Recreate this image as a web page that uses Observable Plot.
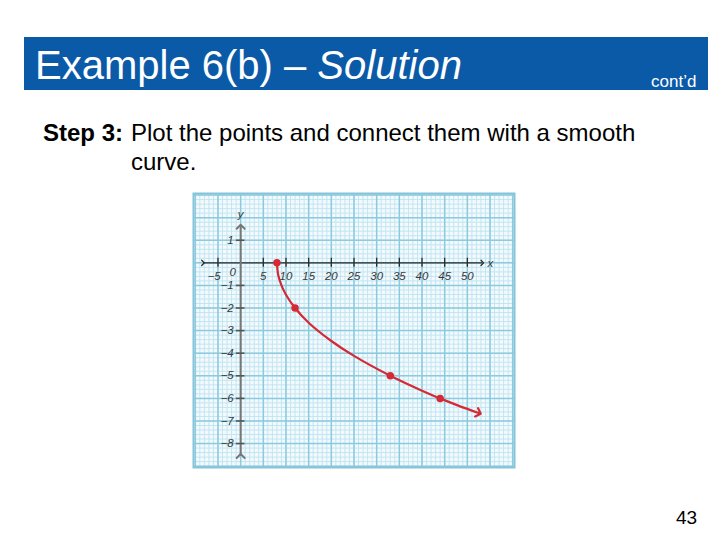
<!DOCTYPE html>
<html>
<head>
<meta charset="utf-8">
<script src="https://cdn.jsdelivr.net/npm/d3@7"></script>
<script src="https://cdn.jsdelivr.net/npm/@observablehq/plot@0.6"></script>
<style>
  html, body { margin: 0; padding: 0; background: #fff; }
  #page { position: relative; width: 720px; height: 540px; overflow: hidden; font-family: "Liberation Sans", Arial, sans-serif; }
  .bar { position: absolute; left: 24px; top: 37px; width: 684px; height: 53px; background: #0b5aa8; }
  .title { position: absolute; left: 35px; top: 45px; font-size: 40px; line-height: 40px; color: #fff; white-space: nowrap; }
  .contd { position: absolute; left: 651px; top: 73px; font-size: 17px; line-height: 17px; color: #fff; white-space: nowrap; }
  .step { position: absolute; left: 43px; top: 118px; font-size: 24px; line-height: 29px; color: #000; white-space: nowrap; }
  .step b { display: inline-block; width: 88px; }
  .step .indent { padding-left: 88px; }
  .pnum { position: absolute; left: 676px; top: 508px; font-size: 19px; line-height: 19px; color: #000; }
  #chart { position: absolute; left: 193px; top: 193px; }
</style>
</head>
<body>
<div id="page">
  <div class="bar"></div>
  <div class="title">Example 6(b) – <i>Solution</i></div>
  <div class="contd">cont’d</div>
  <div class="step"><b>Step 3:</b>Plot the points and connect them with a smooth<br><span class="indent">curve.</span></div>
  <div class="pnum">43</div>
  <div id="chart"></div>
</div>
<script>
// Plotted points
const pointX = [8, 12, 33, 44];
const pointY = [0, -2, -5, -6];
// Smooth curve
const curveX = [8, 8.3, 9, 10, 12, 15, 20, 25, 33, 40, 44, 48, 52.5];
const curveY = [0, -0.55, -1, -1.41, -2, -2.65, -3.46, -4.12, -5, -5.66, -6, -6.32, -6.65];
// Tick labels
const xTickLabels = [-5, 5, 10, 15, 20, 25, 30, 35, 40, 45, 50];
const yTickLabels = [1, -1, -2, -3, -4, -5, -6, -7, -8];
// Axis extents (graph-paper picture)
const xAxisExtent = [-8.3, 53.3];
const yAxisExtent = [-8.55, 1.6];
const xDomain = [-10.4, 60.4];
const yDomain = [-9.06, 3.07];

const pts = pointX.map((x, i) => ({x, y: pointY[i]}));
const curve = curveX.map((x, i) => ({x, y: curveY[i]}));

const minorX = d3.range(-10, 61, 1);
const minorY = d3.range(-45, 16, 1).map(i => i / 5);
const majorX = d3.range(-10, 61, 5);
const majorY = d3.range(-9, 4, 1);

const red = "#d42a35";
const labelFont = {fontFamily: "Liberation Sans, Arial, sans-serif", fontStyle: "italic", fontSize: 11.5, fill: "#3a3a3a"};
const fmt = d => String(d).replace("-", "\u2212");

const chart = Plot.plot({
  width: 321,
  height: 274,
  margin: 0,
  x: {domain: xDomain, axis: null},
  y: {domain: yDomain, axis: null},
  style: {background: "transparent", overflow: "visible"},
  marks: [
    Plot.frame({fill: "#f3fafd", stroke: "none"}),
    Plot.ruleX(minorX, {stroke: "#c3e5f1", strokeWidth: 1}),
    Plot.ruleY(minorY, {stroke: "#c3e5f1", strokeWidth: 1}),
    Plot.ruleX(majorX, {stroke: "#8ccae0", strokeWidth: 1.5}),
    Plot.ruleY(majorY, {stroke: "#8ccae0", strokeWidth: 1.5}),
    Plot.frame({stroke: "#86c4da", strokeWidth: 2}),
    // axes
    Plot.link([0], {x1: xAxisExtent[0], x2: xAxisExtent[1], y1: 0, y2: 0, stroke: "#2b2b2b", strokeWidth: 1.3, markerStart: "arrow", markerEnd: "arrow"}),
    Plot.link([0], {x1: 0, x2: 0, y1: yAxisExtent[0], y2: yAxisExtent[1], stroke: "#777", strokeWidth: 2, markerStart: "arrow", markerEnd: "arrow"}),
    Plot.ruleX(xTickLabels, {y1: -0.2, y2: 0.2, stroke: "#2b2b2b", strokeWidth: 1.3}),
    Plot.ruleY(yTickLabels, {x1: -0.95, x2: 0.95, stroke: "#555", strokeWidth: 1.6}),
    Plot.text(xTickLabels.filter(d => d > 0), {x: d => d, y: 0, dy: 13, text: fmt, ...labelFont}),
    Plot.text(xTickLabels.filter(d => d < 0), {x: d => d, y: 0, dy: 13, dx: -4, text: fmt, ...labelFont}),
    Plot.text(yTickLabels, {x: 0, y: d => d, dx: -7, textAnchor: "end", text: fmt, ...labelFont}),
    Plot.text(["0"], {x: 0, y: 0, dx: -8, dy: 9, textAnchor: "middle", ...labelFont}),
    Plot.text(["y"], {x: 0, y: yAxisExtent[1], dy: -12, ...labelFont}),
    Plot.text(["x"], {x: xAxisExtent[1], y: 0, dx: 8, ...labelFont}),
    // curve and points
    Plot.line(curve, {x: "x", y: "y", curve: "catmull-rom", stroke: red, strokeWidth: 2.2, markerEnd: "arrow"}),
    Plot.dot(pts, {x: "x", y: "y", r: 3, fill: red, stroke: red})
  ]
});
document.getElementById("chart").appendChild(chart);
</script>
</body>
</html>
